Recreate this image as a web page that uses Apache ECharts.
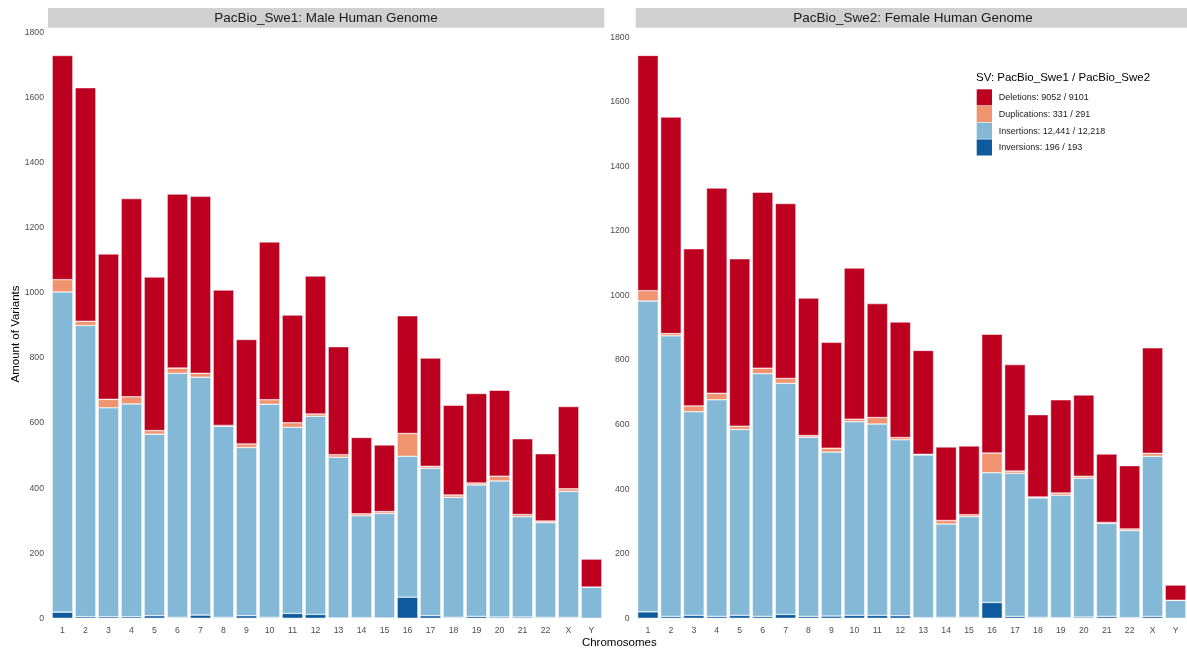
<!DOCTYPE html>
<html>
<head>
<meta charset="utf-8">
<script src="https://cdn.jsdelivr.net/npm/echarts@6/dist/echarts.min.js"></script>
<style>
  html, body { margin: 0; padding: 0; background: #fff; }
  #chart { width: 1187px; height: 656px; }
</style>
</head>
<body>
<div id="chart"></div>
<script>
// Chromosome categories shared by both genomes
const chromosomes = ['1','2','3','4','5','6','7','8','9','10','11','12','13','14','15','16','17','18','19','20','21','22','X','Y'];

// PacBio_Swe1 (male) structural variant counts per chromosome
const swe1Inversions   = [19,5,5,5,8,3,10,3,8,3,15,12,1,2,1,65,8,3,6,4,4,3,3,0];
const swe1Insertions   = [984,895,642,654,558,750,731,587,517,655,572,609,494,313,321,433,453,369,404,418,308,291,387,96];
const swe1Duplications = [38,13,26,22,11,16,12,3,11,14,14,7,8,6,6,70,6,7,6,15,7,5,8,0];
const swe1Deletions    = [689,718,447,609,472,535,544,416,321,485,331,424,332,235,205,362,333,276,275,264,233,207,253,86];

// PacBio_Swe2 (female) structural variant counts per chromosome
const swe2Inversions   = [20,6,9,6,9,6,12,6,7,9,9,8,2,3,3,49,6,3,2,4,6,2,6,0];
const swe2Insertions   = [963,869,631,671,576,752,716,555,508,600,593,545,504,289,312,402,443,370,379,430,288,270,496,56];
const swe2Duplications = [32,7,18,20,10,17,15,5,12,8,20,7,2,11,6,61,7,3,7,6,3,5,9,0];
const swe2Deletions    = [729,671,487,636,519,545,542,426,328,468,353,358,322,228,213,368,330,255,289,252,212,196,327,47];

// Legend entries (top to bottom) with genome totals
const svTypes  = ['Deletions', 'Duplications', 'Insertions', 'Inversions'];
const svTotals = ['9052 / 9101', '331 / 291', '12,441 / 12,218', '196 / 193'];

// Y-axis ticks
const yMin = 0, yMax = 1800, yStep = 200;

const colors = {
  Deletions: '#BE0020',
  Duplications: '#F0936F',
  Insertions: '#83B8D7',
  Inversions: '#0E5A9F'
};

const font = 'Liberation Sans, Arial, Helvetica, sans-serif';

const chart = echarts.init(document.getElementById('chart'), null, { renderer: 'canvas' });

function stackSeries(name, data, idx) {
  return {
    name: name,
    type: 'bar',
    stack: 'sv' + idx,
    xAxisIndex: idx,
    yAxisIndex: idx,
    data: data,
    barWidth: '90%',
    itemStyle: { color: colors[name], borderColor: '#ffffff', borderWidth: 0.5 },
    emphasis: { disabled: true }
  };
}

function xAxisFor(idx) {
  return {
    type: 'category',
    gridIndex: idx,
    data: chromosomes,
    axisLine: { show: false },
    axisTick: { show: false },
    splitLine: { show: false },
    axisLabel: { margin: 8, fontSize: 8.7, color: '#4D4D4D', fontFamily: font, interval: 0 }
  };
}

function yAxisFor(idx) {
  return {
    type: 'value',
    gridIndex: idx,
    min: yMin,
    max: yMax,
    interval: yStep,
    axisLine: { show: false },
    axisTick: { show: false },
    splitLine: { show: false },
    axisLabel: {
      margin: 7, fontSize: 8.7, color: '#4D4D4D', fontFamily: font,
      formatter: function (v) { return String(v); }
    }
  };
}

// Fill-colour key for the SV types, stacked below its title
const keyLeft = 976.7, keyTop = 89.3, keyPitch = 16.7;
const legendKeys = [];
svTypes.forEach(function (name, i) {
  legendKeys.push({
    type: 'rect', silent: true,
    shape: { x: keyLeft, y: keyTop + i * keyPitch, width: 15.3, height: keyPitch - 0.6 },
    style: { fill: colors[name] }
  });
  legendKeys.push({
    type: 'text', silent: true, x: keyLeft + 22, y: keyTop + i * keyPitch + keyPitch / 2,
    style: { text: name + ': ' + svTotals[i], fill: '#1A1A1A', font: '9px ' + font, textAlign: 'left', textVerticalAlign: 'middle' }
  });
});

const option = {
  backgroundColor: '#ffffff',
  animation: false,
  grid: [
    { left: 51, width: 552, top: 32.7, height: 585.6 },
    { left: 636.5, width: 552, top: 37.3, height: 581 }
  ],
  xAxis: [xAxisFor(0), xAxisFor(1)],
  yAxis: [yAxisFor(0), yAxisFor(1)],
  graphic: [
    // facet strips
    { type: 'rect', left: 48, top: 8, shape: { width: 556.3, height: 19.7 }, style: { fill: '#D0D0D0' }, silent: true },
    { type: 'rect', left: 635.7, top: 8, shape: { width: 560, height: 19.7 }, style: { fill: '#D0D0D0' }, silent: true },
    { type: 'text', x: 326, y: 18.3, style: { text: 'PacBio_Swe1: Male Human Genome', fill: '#1A1A1A', font: '13.5px ' + font, textAlign: 'center', textVerticalAlign: 'middle' } },
    { type: 'text', x: 913, y: 18.3, style: { text: 'PacBio_Swe2: Female Human Genome', fill: '#1A1A1A', font: '13.5px ' + font, textAlign: 'center', textVerticalAlign: 'middle' } },
    // axis titles
    { type: 'text', x: 619.3, y: 642.7, style: { text: 'Chromosomes', fill: '#000', font: '11.5px ' + font, textAlign: 'center', textVerticalAlign: 'middle' } },
    { type: 'text', x: 16, y: 334, rotation: Math.PI / 2, style: { text: 'Amount of Variants', fill: '#000', font: '11.5px ' + font, textAlign: 'center', textVerticalAlign: 'middle' } },
    // key title
    { type: 'text', x: 976, y: 78.3, style: { text: 'SV: PacBio_Swe1 / PacBio_Swe2', fill: '#000', font: '11.5px ' + font, textAlign: 'left', textVerticalAlign: 'middle' } }
  ].concat(legendKeys),
  series: [
    stackSeries('Inversions', swe1Inversions, 0),
    stackSeries('Insertions', swe1Insertions, 0),
    stackSeries('Duplications', swe1Duplications, 0),
    stackSeries('Deletions', swe1Deletions, 0),
    stackSeries('Inversions', swe2Inversions, 1),
    stackSeries('Insertions', swe2Insertions, 1),
    stackSeries('Duplications', swe2Duplications, 1),
    stackSeries('Deletions', swe2Deletions, 1)
  ]
};

chart.setOption(option);
</script>
</body>
</html>
